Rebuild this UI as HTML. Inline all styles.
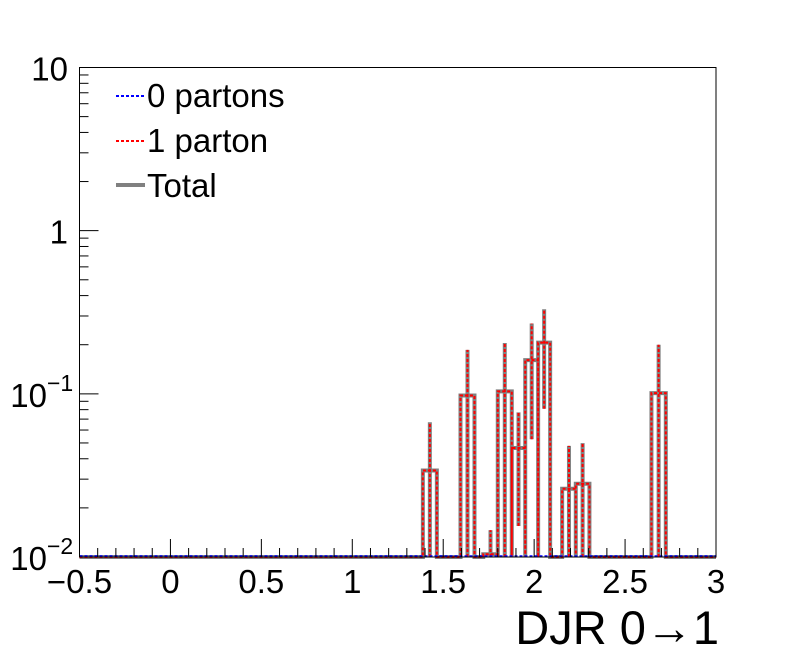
<!DOCTYPE html>
<html><head><meta charset="utf-8"><style>
html,body{margin:0;padding:0;background:#fff;}
svg{display:block;font-family:"Liberation Sans",Arial,sans-serif;}
</style></head><body>
<svg id="chart" width="796" height="672" viewBox="0 0 796 672" xmlns="http://www.w3.org/2000/svg">
<rect x="0" y="0" width="796" height="672" fill="#fff"/>
<g id="plot"></g>
<rect x="79.5" y="67.5" width="636.5" height="489.5" fill="none" stroke="#000" stroke-width="1"/>
<g id="axes"></g>
<text x="719" y="644" font-size="47" text-anchor="end">DJR 0→1</text>
<g>
 <line x1="116" y1="96" x2="145" y2="96" stroke="#00f" stroke-width="2" stroke-dasharray="3,2"/>
 <text x="147" y="107" font-size="33">0 partons</text>
 <line x1="116" y1="141" x2="145" y2="141" stroke="#f00" stroke-width="2" stroke-dasharray="3,2"/>
 <text x="147" y="152" font-size="33">1 parton</text>
 <line x1="116" y1="185" x2="145" y2="185" stroke="#808080" stroke-width="4"/>
 <text x="147" y="197" font-size="33">Total</text>
</g>
</svg>
<script>
const binLo = [1.388, 1.595, 1.72, 1.800, 1.877, 1.951, 2.022, 2.154, 2.229, 2.645];
const binHi = [1.465, 1.672, 1.80, 1.877, 1.951, 2.022, 2.088, 2.229, 2.304, 2.724];
const values = [0.0339, 0.0977, 0.0104, 0.1036, 0.0466, 0.161, 0.206, 0.0262, 0.0281, 0.101];
const errUp = [0.067, 0.186, 0.0146, 0.205, 0.077, 0.27, 0.33, 0.048, 0.0499, 0.2];
const errDown = [0.001, 0.001, 0.006, 0.001, 0.0155, 0.0527, 0.081, 0.001, 0.001, 0.001];
const xTickLabels = ["\u22120.5", "0", "0.5", "1", "1.5", "2", "2.5", "3"];
const xTickValues = [-0.5, 0, 0.5, 1, 1.5, 2, 2.5, 3];

const X0 = 79.5, X1 = 716, Y0 = 557, Y1 = 67.5;
const xMin = -0.5, xMax = 3, yMinExp = -2, yMaxExp = 1;
const NS = "http://www.w3.org/2000/svg";
function sx(v){ return X0 + (v - xMin) / (xMax - xMin) * (X1 - X0); }
function sy(v){ if (v <= 0) return Y0 + 20; const e = Math.log10(v); return Y0 - (e - yMinExp) / (yMaxExp - yMinExp) * (Y0 - Y1); }
function syc(v){ return Math.min(Y0, Math.max(Y1, sy(v))); }
function mk(tag, attrs, parent){ const el = document.createElementNS(NS, tag); for (const k in attrs) el.setAttribute(k, attrs[k]); parent.appendChild(el); return el; }

const plot = document.getElementById('plot');
let d = "M" + sx(xMin) + "," + Y0;
for (let i = 0; i < values.length; i++) {
  const xl = sx(binLo[i]), xh = sx(binHi[i]), y = syc(values[i]);
  d += " L" + xl + "," + Y0 + " L" + xl + "," + y + " L" + xh + "," + y + " L" + xh + "," + Y0;
}
d += " L" + sx(xMax) + "," + Y0;
const totalPath = mk('path', {d: d, fill: 'none', stroke: '#808080', 'stroke-width': 4}, plot);


for (let i = 0; i < values.length; i++) {
  const xc = sx((binLo[i] + binHi[i]) / 2);
  const eb = mk('line', {x1: xc, x2: xc, y1: syc(errDown[i]), y2: syc(errUp[i]), stroke: '#808080', 'stroke-width': 4}, plot);
  
  
  const rb = mk('line', {x1: xc, x2: xc, y1: syc(errDown[i]), y2: syc(errUp[i]), stroke: '#f00', 'stroke-width': 2, 'stroke-dasharray': '3,2'}, plot);
  
  
}
const redPath = mk('path', {d: d, fill: 'none', stroke: '#f00', 'stroke-width': 2, 'stroke-dasharray': '3,2'}, plot);


const blue = mk('line', {x1: sx(xMin), x2: sx(xMax), y1: Y0 - 1, y2: Y0 - 1, stroke: '#00f', 'stroke-width': 1.5, 'stroke-dasharray': '3,2'}, plot);



const axes = document.getElementById('axes');
for (let k = 0; k <= 35; k++) {
  const v = xMin + k * 0.1;
  const x = sx(v);
  const major = (k % 5 === 0);
  const t = mk('line', {x1: x, x2: x, y1: Y0, y2: Y0 - (major ? 18 : 9), stroke: '#000', 'stroke-width': 1}, axes);
  
  
}
for (let i = 0; i < xTickValues.length; i++) {
  const t = mk('text', {x: sx(xTickValues[i]), y: 593, 'font-size': 33, 'text-anchor': 'middle'}, axes);
  t.textContent = xTickLabels[i];
  
  
}
for (let e = yMinExp; e < yMaxExp; e++) {
  for (let m = 1; m <= 9; m++) {
    const y = sy(m * Math.pow(10, e));
    const t = mk('line', {x1: X0, x2: X0 + (m === 1 ? 19 : 9), y1: y, y2: y, stroke: '#000', 'stroke-width': 1}, axes);
    
    
  }
}
const yt = mk('line', {x1: X0, x2: X0 + 19, y1: sy(10), y2: sy(10), stroke: '#000', 'stroke-width': 1}, axes);


const yLabels = [[10, "10", null], [1, "1", null], [0.1, "10", "\u22121"], [0.01, "10", "\u22122"]];
for (const [v, base, sup] of yLabels) {
  const y = sy(v);
  const t = mk('text', {x: sup ? 47 : 68, y: y + 13, 'font-size': 33, 'text-anchor': 'end'}, axes);
  t.textContent = base;
  
  
  if (sup) {
    const s = mk('text', {x: 47, y: y - 3, 'font-size': 23, 'text-anchor': 'start'}, axes);
    s.textContent = sup;
    
    
  }
}
</script>
</body></html>
